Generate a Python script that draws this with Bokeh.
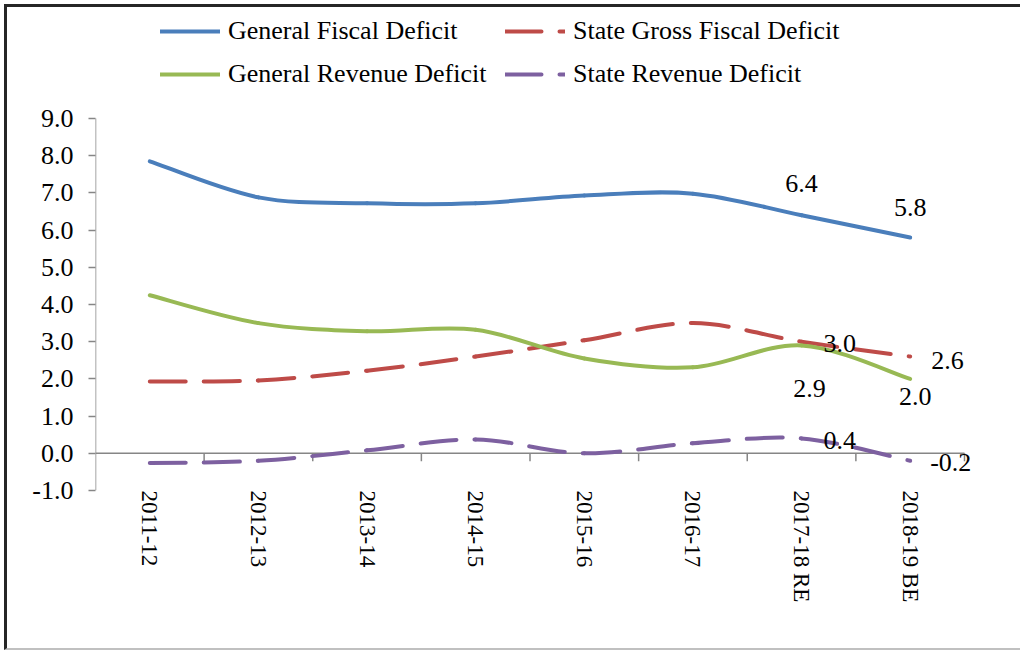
from bokeh.plotting import figure
from bokeh.models import Range1d, FixedTicker, Legend, LegendItem
from bokeh.core.properties import value
from bokeh.embed import file_html
from bokeh.resources import INLINE

categories = ["2011-12", "2012-13", "2013-14", "2014-15", "2015-16", "2016-17", "2017-18 RE", "2018-19 BE"]
general_fiscal_deficit = [7.85, 6.88, 6.72, 6.72, 6.93, 6.98, 6.4, 5.8]
state_gross_fiscal_deficit = [1.93, 1.96, 2.22, 2.6, 3.04, 3.5, 3.0, 2.6]
general_revenue_deficit = [4.25, 3.5, 3.28, 3.32, 2.55, 2.31, 2.9, 2.0]
state_revenue_deficit = [-0.26, -0.2, 0.08, 0.37, 0.0, 0.27, 0.4, -0.2]
y_ticks = [-1, 0, 1, 2, 3, 4, 5, 6, 7, 8, 9]

FONT = "Liberation Serif"
n = len(categories)
xs = [i + 0.5 for i in range(n)]

PX_PER_UNIT = 37.2
PX_PER_CAT = 108.625
TOP_SPACE = 111    # room above the 9.0 line for the legend
RIGHT_SPACE = 59   # room right of the last category for data labels
y_top = y_ticks[-1] + TOP_SPACE / PX_PER_UNIT
x_right = n + RIGHT_SPACE / PX_PER_CAT

p = figure(width=1016, height=646, output_backend="svg", toolbar_location=None,
           x_range=Range1d(0, x_right), y_range=Range1d(y_ticks[0], y_top),
           min_border_left=88, min_border_right=0, min_border_top=0, min_border_bottom=163)
p.outline_line_color = None
p.grid.grid_line_color = None
p.background_fill_color = "white"
p.styles = {"position": "absolute", "left": "4px", "top": "4px",
            "border-left": "3px solid #262626", "border-top": "3px solid #262626",
            "border-bottom": "2px solid #c0c0c0"}

# y axis (own axis line so it stops at 9.0)
ya = p.yaxis[0]
ya.ticker = FixedTicker(ticks=y_ticks)
ya.major_label_overrides = {t: f"{t:.1f}" for t in y_ticks}
ya.axis_line_color = None
ya.major_tick_line_color = "#868686"
ya.major_tick_line_width = 1.5
ya.major_tick_out = 7
ya.major_tick_in = 0
ya.minor_tick_line_color = None
ya.major_label_standoff = 15
ya.major_label_text_font = FONT
ya.major_label_text_font_size = "26px"
ya.major_label_text_color = "black"
p.segment(x0=[0], y0=[y_ticks[0]], x1=[0], y1=[y_ticks[-1]], line_color="#868686", line_width=1.5)

# x axis (labels only, at the bottom)
xa = p.xaxis[0]
xa.ticker = FixedTicker(ticks=xs)
xa.major_label_overrides = {x: c for x, c in zip(xs, categories)}
xa.axis_line_color = None
xa.major_tick_line_color = None
xa.major_tick_out = 0
xa.major_tick_in = 0
xa.minor_tick_line_color = None
xa.major_label_orientation = "vertical"
xa.major_label_standoff = 0
xa.major_label_text_font = FONT
xa.major_label_text_font_size = "23px"
xa.major_label_text_color = "black"

# horizontal axis line at zero with category boundary ticks
p.segment(x0=[0], y0=[0], x1=[n], y1=[0], line_color="#868686", line_width=1.5)
bounds = list(range(1, n + 1))
p.segment(x0=bounds, y0=[0] * len(bounds), x1=bounds, y1=[-8 / PX_PER_UNIT] * len(bounds),
          line_color="#868686", line_width=1.5)


def smooth(vals):
    x0, y0, x1, y1, cx0, cy0, cx1, cy1 = [], [], [], [], [], [], [], []
    for i in range(n - 1):
        pa = (xs[max(i - 1, 0)], vals[max(i - 1, 0)])
        pb = (xs[i], vals[i])
        pc = (xs[i + 1], vals[i + 1])
        pd = (xs[min(i + 2, n - 1)], vals[min(i + 2, n - 1)])
        x0.append(pb[0]); y0.append(pb[1]); x1.append(pc[0]); y1.append(pc[1])
        cx0.append(pb[0] + (pc[0] - pa[0]) / 6); cy0.append(pb[1] + (pc[1] - pa[1]) / 6)
        cx1.append(pc[0] - (pd[0] - pb[0]) / 6); cy1.append(pc[1] - (pd[1] - pb[1]) / 6)
    return dict(x0=x0, y0=y0, x1=x1, y1=y1, cx0=cx0, cy0=cy0, cx1=cx1, cy1=cy1)


series = [
    ("General Fiscal Deficit", general_fiscal_deficit, "#4A7EBB", "solid"),
    ("State Gross Fiscal Deficit", state_gross_fiscal_deficit, "#BE4B48", "36 18"),
    ("General Revenue Deficit", general_revenue_deficit, "#98B954", "solid"),
    ("State Revenue Deficit", state_revenue_deficit, "#7D60A0", "36 18"),
]
items = {}
for name, vals, color, dash in series:
    r = p.bezier(**smooth(vals), line_color=color, line_width=4, line_dash=dash, line_cap="round")
    items[name] = LegendItem(label=name, renderers=[r])

# legend fills column by column: first column GFD / GRD, second column SGFD / SRD
legend_order = ["General Fiscal Deficit", "General Revenue Deficit",
                "State Gross Fiscal Deficit", "State Revenue Deficit"]
legend = Legend(items=[items[k] for k in legend_order], ncols=2, location=(65, 401),
                label_text_font=FONT, label_text_font_size="26px", label_text_color="black",
                glyph_width=60, glyph_height=20, label_standoff=8, label_width=264, spacing=13,
                padding=5, margin=0, border_line_color=None, background_fill_alpha=0)
p.add_layout(legend)

# data labels for the last two points
def labels(vals, dx, dy, align):
    idx = [n - 2, n - 1]
    p.text(x=[xs[i] for i in idx], y=[vals[i] for i in idx], text=[f"{vals[i]:.1f}" for i in idx],
           x_offset=dx, y_offset=dy, text_align=align, text_baseline="middle",
           text_font=value(FONT), text_font_size="26px", text_color="black")

labels(general_fiscal_deficit, [0, 0], [-32, -30], "center")
labels(state_gross_fiscal_deficit, [22, 21], [2, 4], "left")
labels(general_revenue_deficit, [8, 5], [43, 18], "center")
labels(state_revenue_deficit, [22, 20], [2, 2], "left")

open("out.html", "w").write(file_html(p, INLINE))
